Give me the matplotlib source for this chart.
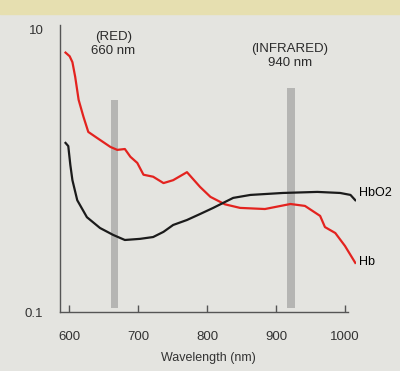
import matplotlib.pyplot as plt
from matplotlib.patches import Rectangle

# Absorption spectra (wavelength in nm, extinction on a log axis)
hbWavelength = [595, 601, 605, 609, 614, 621, 628, 641, 660, 670, 681, 689, 699,
                708, 722, 737, 751, 771, 790, 805, 826, 848, 884, 921, 942,
                964, 971, 986, 1000, 1015]
hbValues = [6.9, 6.5, 5.9, 4.65, 3.19, 2.42, 1.89, 1.71, 1.48, 1.41, 1.43,
            1.26, 1.14, 0.94, 0.91, 0.82, 0.86, 0.98, 0.77, 0.655, 0.58, 0.547,
            0.537, 0.583, 0.565, 0.48, 0.40, 0.363, 0.294, 0.223]

hbo2Wavelength = [595, 599, 602, 605, 612, 626, 645, 664, 681, 703, 722, 737,
                  751, 771, 790, 809, 838, 863, 910, 960, 993, 1008, 1015]
hbo2Values = [1.58, 1.50, 1.10, 0.86, 0.62, 0.47, 0.394, 0.352, 0.324, 0.33,
              0.34, 0.37, 0.414, 0.449, 0.495, 0.547, 0.644, 0.676, 0.698,
              0.71, 0.698, 0.676, 0.62]

bandCenters = [666, 922]
bandTops = [3.19, 3.88]
bandLabels = ["(RED)\n660 nm", "(INFRARED)\n940 nm"]
bandLabelHeights = [7.9, 6.5]

xTicks = [600, 700, 800, 900, 1000]
yTicks = [0.1, 10]
yTickLabels = ["0.1", "10"]

plt.rcParams['font.family'] = ['Liberation Sans', 'DejaVu Sans']

paper = '#e4e4e0'
fig = plt.figure(figsize=(4, 3.71), dpi=100, facecolor=paper)

# yellow grid paper peeking in at the top of the photo
fig.patches.append(Rectangle((0, 0.962), 1, 0.04, transform=fig.transFigure,
                             color='#e6dfb0', zorder=0))

ax = fig.add_axes([0.15, 0.159, 0.74, 0.774])
ax.set_facecolor('none')
ax.set_yscale('log')
ax.set_xlim(587, 1016)
ax.set_ylim(0.1, 10.85)

for center, top in zip(bandCenters, bandTops):
    ax.fill_between([center - 5.5, center + 5.5], 0.107, top,
                    color='#b5b5b3', lw=0, zorder=1)

ax.plot(hbWavelength, hbValues, '-', color='#e3231f', lw=1.6, zorder=3)
ax.plot(hbo2Wavelength, hbo2Values, '-', color='#1b1b1b', lw=1.6, zorder=3)

ax.text(1020, 0.70, "HbO2", fontsize=9, va='center', ha='left', clip_on=False)
ax.text(1020, 0.225, "Hb", fontsize=9, va='center', ha='left', clip_on=False)

for center, label, height in zip(bandCenters, bandLabels, bandLabelHeights):
    ax.text(center - 2, height, label, fontsize=9.5, ha='center', va='center',
            linespacing=1.25, color='#2a2a2a')

for side in ['top', 'right']:
    ax.spines[side].set_visible(False)
for side in ['left', 'bottom']:
    ax.spines[side].set_color('#555555')
    ax.spines[side].set_linewidth(1.0)
ax.spines['bottom'].set_bounds(587, 1004)

ax.set_xticks(xTicks)
ax.set_xticklabels([str(t) for t in xTicks], fontsize=9.5, color='#333333')
ax.tick_params(axis='x', direction='in', length=5, width=1, color='#555555', pad=14)
ax.set_yticks(yTicks)
ax.set_yticklabels(yTickLabels, fontsize=9.5, color='#333333')
ax.yaxis.set_minor_locator(plt.NullLocator())
ax.tick_params(axis='y', length=0, pad=12)
ax.set_xlabel("Wavelength (nm)", fontsize=9, color='#333333', labelpad=6)

fig.savefig("out.png", dpi=100, facecolor=paper)
